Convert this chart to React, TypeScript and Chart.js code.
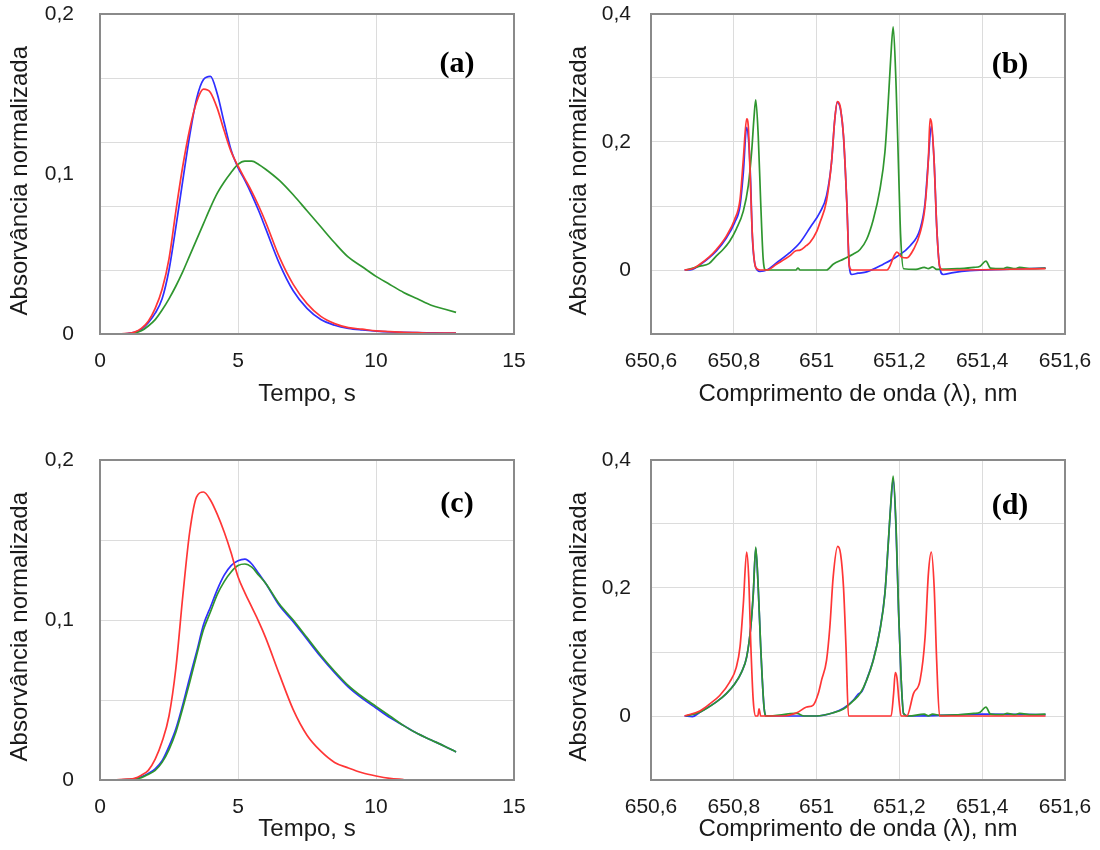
import React, { useEffect, useRef } from 'react';
import { Chart, registerables } from 'chart.js';

Chart.register(...registerables);

// ---------- Time-resolved transients (panels a, c) ----------
const timeS = [0, 0.5, 1, 1.25, 1.5, 1.75, 2, 2.25, 2.5, 2.75, 3, 3.25, 3.5, 3.75, 4, 4.25, 4.5, 4.75, 5, 5.25, 5.5, 5.75, 6, 6.5, 7, 7.5, 8, 8.5, 9, 9.5, 10, 10.5, 11, 11.5, 12, 12.5, 12.9];

const blueA = [0, 0, 0.0003, 0.001, 0.003, 0.007, 0.013, 0.022, 0.040, 0.067, 0.096, 0.124, 0.147, 0.159, 0.161, 0.150, 0.132, 0.115, 0.104, 0.096, 0.087, 0.077, 0.066, 0.044, 0.027, 0.016, 0.009, 0.0055, 0.0035, 0.0025, 0.0018, 0.0013, 0.001, 0.0008, 0.0007, 0.0006, 0.0005];
const redA = [0, 0, 0.0004, 0.0012, 0.0035, 0.008, 0.016, 0.028, 0.047, 0.077, 0.105, 0.128, 0.145, 0.153, 0.151, 0.141, 0.127, 0.114, 0.105, 0.097, 0.089, 0.080, 0.070, 0.048, 0.031, 0.019, 0.011, 0.0065, 0.004, 0.003, 0.002, 0.0015, 0.001, 0.0008, 0.0006, 0.0006, 0.0005];
const greenA = [0, 0, 0, 0.0005, 0.002, 0.005, 0.009, 0.015, 0.022, 0.030, 0.039, 0.049, 0.059, 0.069, 0.079, 0.088, 0.095, 0.101, 0.106, 0.108, 0.108, 0.106, 0.103, 0.096, 0.087, 0.077, 0.067, 0.057, 0.048, 0.042, 0.036, 0.031, 0.026, 0.022, 0.018, 0.0155, 0.0135];

const blueC = [0, 0, 0.0003, 0.0008, 0.002, 0.004, 0.007, 0.012, 0.021, 0.032, 0.047, 0.064, 0.080, 0.097, 0.108, 0.119, 0.128, 0.134, 0.137, 0.138, 0.135, 0.129, 0.123, 0.109, 0.099, 0.088, 0.077, 0.067, 0.058, 0.051, 0.045, 0.039, 0.034, 0.029, 0.025, 0.021, 0.0175];
const redC = [0, 0, 0.0005, 0.001, 0.003, 0.006, 0.013, 0.024, 0.040, 0.070, 0.115, 0.155, 0.177, 0.180, 0.175, 0.166, 0.155, 0.142, 0.127, 0.117, 0.108, 0.099, 0.089, 0.066, 0.044, 0.028, 0.018, 0.011, 0.0075, 0.0045, 0.0025, 0.001, 0.0003, null, null, null, null];
const greenC = [0, 0, 0.0002, 0.0006, 0.0015, 0.0035, 0.006, 0.011, 0.019, 0.030, 0.045, 0.061, 0.078, 0.094, 0.105, 0.116, 0.124, 0.130, 0.134, 0.135, 0.133, 0.128, 0.123, 0.110, 0.100, 0.089, 0.078, 0.068, 0.059, 0.052, 0.046, 0.040, 0.034, 0.029, 0.025, 0.021, 0.0175];

// ---------- Spectra (panels b, d) ----------
const wlRedB = [650.681, 650.70, 650.718, 650.74, 650.758, 650.782, 650.802, 650.815, 650.823, 650.831, 650.835, 650.839, 650.845, 650.853, 650.863, 650.88, 650.903, 650.935, 650.95, 650.96, 650.975, 650.984, 651.0, 651.008, 651.024, 651.036, 651.044, 651.05, 651.055, 651.058, 651.065, 651.073, 651.079, 651.085, 651.17, 651.177, 651.187, 651.194, 651.206, 651.218, 651.234, 651.25, 651.262, 651.27, 651.274, 651.278, 651.284, 651.29, 651.297, 651.305, 651.553];
const absRedB = [0, 0.002, 0.009, 0.020, 0.032, 0.053, 0.079, 0.11, 0.173, 0.236, 0.225, 0.158, 0.053, 0.004, 0, 0, 0.009, 0.022, 0.030, 0.031, 0.038, 0.043, 0.060, 0.074, 0.108, 0.168, 0.236, 0.263, 0.26, 0.252, 0.21, 0.105, 0.006, 0, 0, 0.006, 0.022, 0.028, 0.02, 0.019, 0.032, 0.058, 0.1, 0.173, 0.236, 0.228, 0.168, 0.069, 0.006, 0, 0.002];

const wlBlueB = [650.681, 650.70, 650.718, 650.758, 650.782, 650.802, 650.815, 650.823, 650.831, 650.836, 650.84, 650.845, 650.853, 650.863, 650.88, 650.903, 650.935, 650.96, 650.984, 651.008, 651.024, 651.036, 651.044, 651.05, 651.058, 651.065, 651.073, 651.079, 651.085, 651.1, 651.121, 651.161, 651.194, 651.226, 651.25, 651.262, 651.27, 651.277, 651.284, 651.29, 651.297, 651.306, 651.33, 651.37, 651.45, 651.553];
const absBlueB = [0, 0.001, 0.008, 0.030, 0.050, 0.074, 0.10, 0.152, 0.223, 0.2, 0.15, 0.05, 0.004, -0.002, 0, 0.011, 0.027, 0.043, 0.066, 0.09, 0.116, 0.168, 0.236, 0.262, 0.25, 0.208, 0.105, 0.006, -0.007, -0.005, -0.003, 0.009, 0.021, 0.038, 0.064, 0.105, 0.173, 0.225, 0.168, 0.069, 0.006, -0.007, -0.004, -0.001, 0.001, 0.003];

const wlGreenB = [650.685, 650.718, 650.74, 650.758, 650.774, 650.79, 650.806, 650.823, 650.835, 650.843, 650.849, 650.853, 650.859, 650.865, 650.871, 650.877, 650.95, 650.955, 650.96, 651.024, 651.04, 651.065, 651.089, 651.105, 651.121, 651.137, 651.153, 651.165, 651.173, 651.179, 651.185, 651.192, 651.198, 651.203, 651.21, 651.24, 651.26, 651.27, 651.28, 651.29, 651.34, 651.38, 651.395, 651.409, 651.42, 651.45, 651.46, 651.48, 651.49, 651.52, 651.553];
const absGreenB = [0, 0.006, 0.010, 0.022, 0.032, 0.045, 0.064, 0.092, 0.132, 0.184, 0.24, 0.266, 0.21, 0.105, 0.017, 0, 0, 0.003, 0, 0, 0.009, 0.017, 0.025, 0.032, 0.048, 0.079, 0.126, 0.184, 0.262, 0.33, 0.38, 0.288, 0.158, 0.053, 0.002, 0.001, 0.004, 0.002, 0.005, 0.001, 0.002, 0.004, 0.006, 0.014, 0.003, 0.002, 0.004, 0.002, 0.004, 0.002, 0.003];

const wlRedD = [650.681, 650.718, 650.742, 650.766, 650.79, 650.806, 650.815, 650.823, 650.831, 650.836, 650.841, 650.847, 650.853, 650.858, 650.861, 650.865, 650.919, 650.952, 650.976, 650.992, 651.004, 651.012, 651.024, 651.032, 651.04, 651.051, 651.058, 651.065, 651.071, 651.077, 651.18, 651.186, 651.19, 651.194, 651.199, 651.204, 651.218, 651.234, 651.25, 651.262, 651.27, 651.277, 651.284, 651.29, 651.297, 651.553];
const absRedD = [0, 0.008, 0.019, 0.032, 0.053, 0.076, 0.108, 0.175, 0.256, 0.217, 0.113, 0.024, 0, 0, 0.011, 0, 0, 0.005, 0.014, 0.017, 0.035, 0.056, 0.087, 0.139, 0.217, 0.265, 0.253, 0.201, 0.108, 0, 0, 0.035, 0.068, 0.06, 0.024, 0, 0, 0.035, 0.056, 0.123, 0.222, 0.256, 0.201, 0.087, 0, 0];

const wlGreenD = [650.685, 650.718, 650.758, 650.782, 650.802, 650.819, 650.831, 650.841, 650.847, 650.853, 650.859, 650.865, 650.873, 650.879, 650.952, 650.97, 651.0, 651.04, 651.065, 651.089, 651.105, 651.121, 651.137, 651.153, 651.165, 651.173, 651.179, 651.185, 651.192, 651.198, 651.204, 651.21, 651.222, 651.26, 651.27, 651.28, 651.3, 651.38, 651.395, 651.409, 651.42, 651.45, 651.46, 651.48, 651.49, 651.52, 651.553];
const absGreenD = [0, 0.006, 0.022, 0.035, 0.05, 0.069, 0.092, 0.139, 0.191, 0.264, 0.201, 0.108, 0.014, 0, 0.004, 0, 0, 0.005, 0.011, 0.024, 0.035, 0.056, 0.087, 0.134, 0.191, 0.269, 0.33, 0.375, 0.295, 0.165, 0.061, 0.004, 0, 0.003, 0, 0.003, 0.001, 0.004, 0.006, 0.014, 0.003, 0.002, 0.004, 0.002, 0.004, 0.002, 0.003];

const wlBlueD = [650.681, 650.70, 650.718, 650.758, 650.782, 650.802, 650.819, 650.831, 650.841, 650.847, 650.853, 650.859, 650.865, 650.873, 650.879, 651.0, 651.04, 651.065, 651.089, 651.1, 651.11, 651.121, 651.137, 651.153, 651.165, 651.173, 651.179, 651.185, 651.192, 651.198, 651.204, 651.21, 651.222, 651.3, 651.4, 651.553];
const absBlueD = [0, -0.001, 0.006, 0.022, 0.035, 0.05, 0.069, 0.092, 0.139, 0.19, 0.262, 0.2, 0.107, 0.014, 0, 0, 0.005, 0.012, 0.025, 0.034, 0.039, 0.057, 0.088, 0.135, 0.192, 0.268, 0.328, 0.37, 0.29, 0.163, 0.06, 0.004, 0, 0.001, 0.003, 0.002];

// ---------- Ticks ----------
const timeTicks = [0, 5, 10, 15];
const timeTickLabels = ['0', '5', '10', '15'];
const timeGrid = [5, 10];

const wlTicks = [650.6, 650.8, 651, 651.2, 651.4, 651.6];
const wlTickLabels = ['650,6', '650,8', '651', '651,2', '651,4', '651,6'];
const wlGrid = [650.8, 651, 651.2, 651.4];

const absTicksA = [0, 0.04, 0.08, 0.1, 0.12, 0.16, 0.2];
const absTickLabelsA = ['0', '', '', '0,1', '', '', '0,2'];
const absGridA = [0.04, 0.08, 0.12, 0.16];

const absTicksC = [0, 0.05, 0.1, 0.15, 0.2];
const absTickLabelsC = ['0', '', '0,1', '', '0,2'];
const absGridC = [0.05, 0.1, 0.15];

const absTicksSpec = [-0.1, 0, 0.1, 0.2, 0.3, 0.4];
const absTickLabelsSpec = ['', '0', '', '0,2', '', '0,4'];
const absGridSpec = [0, 0.1, 0.2, 0.3];

const BLUE = '#2f2fff';
const RED = '#ff3636';
const GREEN = '#2f962f';
const GRID = '#dcdcdc';
const FRAME = '#8a8a8a';
const TEXT = '#1a1a1a';
const SANS = '"Liberation Sans", Arial, Helvetica, sans-serif';

const Y_TITLE = 'Absorvância normalizada  ';
const T_TITLE = 'Tempo, s';
const W_TITLE = 'Comprimento de onda (λ), nm';

type Series = { label: string; x: number[]; y: (number | null)[]; color: string };

type PanelCfg = {
  key: string;
  left: number;
  top: number;
  padTop: number;
  padRight: number;
  yAxisWidth: number;
  xAxisHeight: number;
  yTickPad: number;
  yTitlePad: number;
  xTitlePadBottom: number;
  tag: string;
  tagX: number;
  tagY: number;
  series: Series[];
  xMin: number;
  xMax: number;
  xTicks: number[];
  xLabels: string[];
  xGrid: number[];
  xTitle: string;
  yMin: number;
  yMax: number;
  yTicks: number[];
  yLabels: string[];
  yGrid: number[];
};

const panels: PanelCfg[] = [
  {
    key: 'a', left: 0, top: 0, padTop: 14, padRight: 36, yAxisWidth: 100, xAxisHeight: 91,
    yTickPad: 26, yTitlePad: 6, xTitlePadBottom: 16, tag: '(a)', tagX: 357, tagY: 50,
    series: [
      { label: 'vermelho', x: timeS, y: redA, color: RED },
      { label: 'verde', x: timeS, y: greenA, color: GREEN },
      { label: 'azul', x: timeS, y: blueA, color: BLUE },
    ],
    xMin: 0, xMax: 15, xTicks: timeTicks, xLabels: timeTickLabels, xGrid: timeGrid, xTitle: T_TITLE,
    yMin: 0, yMax: 0.2, yTicks: absTicksA, yLabels: absTickLabelsA, yGrid: absGridA,
  },
  {
    key: 'b', left: 550, top: 0, padTop: 14, padRight: 35, yAxisWidth: 101, xAxisHeight: 91,
    yTickPad: 20, yTitlePad: 15, xTitlePadBottom: 16, tag: '(b)', tagX: 359, tagY: 51,
    series: [
      { label: 'vermelho', x: wlRedB, y: absRedB, color: RED },
      { label: 'verde', x: wlGreenB, y: absGreenB, color: GREEN },
      { label: 'azul', x: wlBlueB, y: absBlueB, color: BLUE },
    ],
    xMin: 650.6, xMax: 651.6, xTicks: wlTicks, xLabels: wlTickLabels, xGrid: wlGrid, xTitle: W_TITLE,
    yMin: -0.1, yMax: 0.4, yTicks: absTicksSpec, yLabels: absTickLabelsSpec, yGrid: absGridSpec,
  },
  {
    key: 'c', left: 0, top: 425, padTop: 35, padRight: 36, yAxisWidth: 100, xAxisHeight: 70,
    yTickPad: 26, yTitlePad: 6, xTitlePadBottom: 6, tag: '(c)', tagX: 357, tagY: 44,
    series: [
      { label: 'vermelho', x: timeS, y: redC, color: RED },
      { label: 'verde', x: timeS, y: greenC, color: GREEN },
      { label: 'azul', x: timeS, y: blueC, color: BLUE },
    ],
    xMin: 0, xMax: 15, xTicks: timeTicks, xLabels: timeTickLabels, xGrid: timeGrid, xTitle: T_TITLE,
    yMin: 0, yMax: 0.2, yTicks: absTicksC, yLabels: absTickLabelsC, yGrid: absGridC,
  },
  {
    key: 'd', left: 550, top: 425, padTop: 35, padRight: 35, yAxisWidth: 101, xAxisHeight: 70,
    yTickPad: 20, yTitlePad: 15, xTitlePadBottom: 6, tag: '(d)', tagX: 359, tagY: 46,
    series: [
      { label: 'vermelho', x: wlRedD, y: absRedD, color: RED },
      { label: 'verde', x: wlGreenD, y: absGreenD, color: GREEN },
      { label: 'azul', x: wlBlueD, y: absBlueD, color: BLUE },
    ],
    xMin: 650.6, xMax: 651.6, xTicks: wlTicks, xLabels: wlTickLabels, xGrid: wlGrid, xTitle: W_TITLE,
    yMin: -0.1, yMax: 0.4, yTicks: absTicksSpec, yLabels: absTickLabelsSpec, yGrid: absGridSpec,
  },
];

const framePlugin = {
  id: 'frame',
  afterDraw(chart: any, _args: any, opts: any) {
    const { ctx, chartArea: a } = chart;
    ctx.save();
    ctx.strokeStyle = FRAME;
    ctx.lineWidth = 2;
    ctx.strokeRect(a.left, a.top, a.right - a.left, a.bottom - a.top);
    ctx.font = 'bold 30px "Liberation Serif", "Times New Roman", serif';
    ctx.fillStyle = '#000';
    ctx.textAlign = 'center';
    ctx.textBaseline = 'middle';
    ctx.fillText(opts.tag, a.left + opts.tagX, a.top + opts.tagY);
    ctx.restore();
  },
};

function near(list: number[], v: number) {
  return list.some((g) => Math.abs(g - v) < 1e-9);
}

function Panel({ cfg }: { cfg: PanelCfg }) {
  const ref = useRef<HTMLCanvasElement>(null);
  useEffect(() => {
    const canvas = ref.current;
    if (!canvas) return;
    const chart = new Chart(canvas, {
      type: 'line',
      data: {
        datasets: cfg.series.map((s) => ({
          label: s.label,
          data: s.x.map((x, i) => ({ x, y: s.y[i] })),
          borderColor: s.color,
          backgroundColor: s.color,
          borderWidth: 1.7,
          pointRadius: 0,
          fill: false,
          cubicInterpolationMode: 'monotone',
          spanGaps: false,
        })),
      },
      options: {
        animation: false,
        responsive: false,
        layout: { padding: { top: cfg.padTop, right: cfg.padRight, left: 0, bottom: 0 } },
        plugins: {
          legend: { display: false },
          tooltip: { enabled: false },
          frame: { tag: cfg.tag, tagX: cfg.tagX, tagY: cfg.tagY },
        } as any,
        scales: {
          x: {
            type: 'linear',
            min: cfg.xMin,
            max: cfg.xMax,
            afterBuildTicks: (s: any) => {
              s.ticks = cfg.xTicks.map((v) => ({ value: v }));
            },
            afterFit: (s: any) => {
              s.height = cfg.xAxisHeight;
              s.paddingLeft = 0;
              s.paddingRight = 0;
            },
            ticks: {
              autoSkip: false,
              maxRotation: 0,
              padding: 15,
              color: TEXT,
              font: { family: SANS, size: 21 },
              callback: (_v: any, i: number) => cfg.xLabels[i],
            },
            grid: {
              drawTicks: false,
              lineWidth: 1,
              color: (c: any) => (c.tick && near(cfg.xGrid, c.tick.value) ? GRID : 'rgba(0,0,0,0)'),
            },
            border: { display: false },
            title: {
              display: true,
              text: cfg.xTitle,
              color: TEXT,
              font: { family: SANS, size: 24 },
              padding: { top: 0, bottom: cfg.xTitlePadBottom },
            },
          },
          y: {
            type: 'linear',
            min: cfg.yMin,
            max: cfg.yMax,
            afterBuildTicks: (s: any) => {
              s.ticks = cfg.yTicks.map((v) => ({ value: v }));
            },
            afterFit: (s: any) => {
              s.width = cfg.yAxisWidth;
              s.paddingTop = 0;
              s.paddingBottom = 0;
            },
            ticks: {
              autoSkip: false,
              padding: cfg.yTickPad,
              color: TEXT,
              font: { family: SANS, size: 21 },
              callback: (_v: any, i: number) => cfg.yLabels[i],
            },
            grid: {
              drawTicks: false,
              lineWidth: 1,
              color: (c: any) => (c.tick && near(cfg.yGrid, c.tick.value) ? GRID : 'rgba(0,0,0,0)'),
            },
            border: { display: false },
            title: {
              display: true,
              text: Y_TITLE,
              color: TEXT,
              font: { family: SANS, size: 24 },
              padding: { top: cfg.yTitlePad, bottom: 0 },
            },
          },
        },
      } as any,
      plugins: [framePlugin],
    });
    return () => chart.destroy();
  }, [cfg]);

  return (
    <canvas
      ref={ref}
      width={550}
      height={425}
      style={{ position: 'absolute', left: cfg.left, top: cfg.top, width: 550, height: 425 }}
    />
  );
}

export default function App() {
  return (
    <div style={{ position: 'absolute', left: 0, top: 0, width: 1100, height: 850, background: '#fff', overflow: 'hidden' }}>
      {panels.map((p) => (
        <Panel key={p.key} cfg={p} />
      ))}
    </div>
  );
}
